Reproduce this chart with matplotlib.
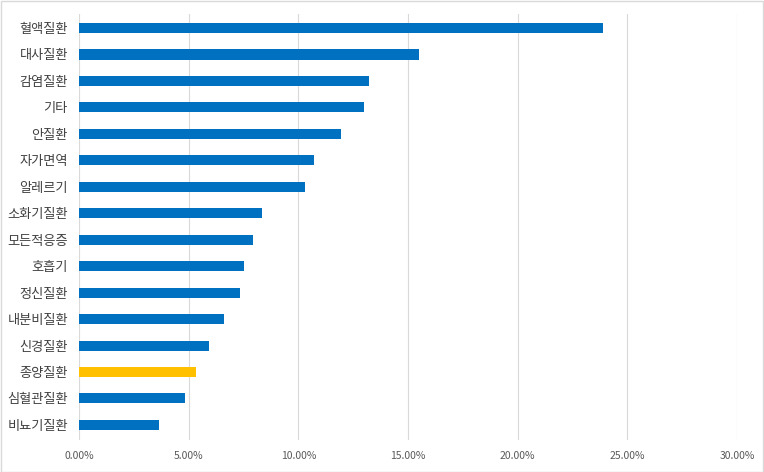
import matplotlib.pyplot as plt
from matplotlib.ticker import FuncFormatter

plt.rcParams['font.family'] = ['Noto Sans CJK KR', 'DejaVu Sans']

categories = ['혈액질환', '대사질환', '감염질환', '기타', '안질환', '자가면역', '알레르기',
              '소화기질환', '모든적응증', '호흡기', '정신질환', '내분비질환', '신경질환',
              '종양질환', '심혈관질환', '비뇨기질환']
values = [23.9, 15.5, 13.2, 13.0, 11.95, 10.7, 10.3, 8.35, 7.93, 7.52, 7.34, 6.61,
          5.93, 5.34, 4.83, 3.65]
highlight = '종양질환'

colors = ['#ffc000' if c == highlight else '#0070c0' for c in categories]

fig = plt.figure(figsize=(7.64, 4.72), dpi=100)
ax = fig.add_axes([79 / 764, 1 - 440 / 472, (737 - 79) / 764, (440 - 14) / 472])

ax.barh(range(len(categories)), values, height=0.38, color=colors, zorder=2)
ax.set_yticks(range(len(categories)))
ax.set_yticklabels(categories, fontsize=9.5, color='#404040')
ax.set_ylim(15.57, -0.53)
ax.set_xlim(0, 30)
ax.set_xticks(range(0, 31, 5))
ax.xaxis.set_major_formatter(FuncFormatter(lambda v, p: f'{v:.2f}%'))
ax.tick_params(axis='x', labelsize=7.5, labelcolor='#595959', length=0, pad=8)
ax.tick_params(axis='y', length=0, pad=8)
ax.grid(axis='x', color='#d9d9d9', linewidth=0.8, zorder=0)
for s in ax.spines.values():
    s.set_visible(False)

# light frame around the chart
fig.patches.append(plt.Rectangle((0.001, 0.001), 0.998, 0.997, transform=fig.transFigure,
                                 fill=False, edgecolor='#d9d9d9', linewidth=1))

fig.savefig('out.png', dpi=100)
